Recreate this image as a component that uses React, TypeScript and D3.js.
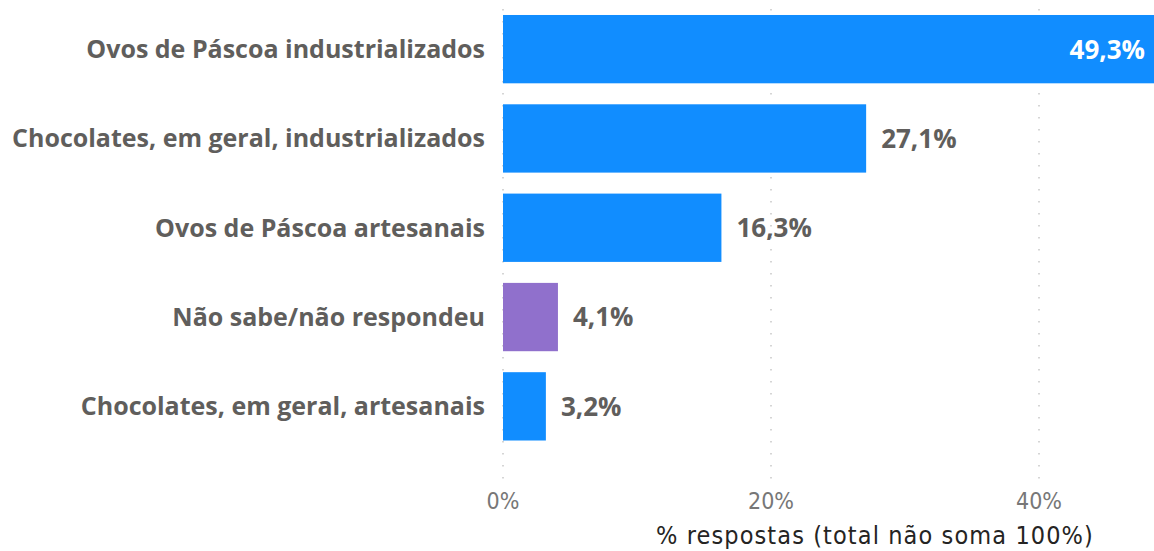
import React, { useEffect, useRef } from "react";
import * as d3 from "d3";

const categories = [
  "Ovos de Páscoa industrializados",
  "Chocolates, em geral, industrializados",
  "Ovos de Páscoa artesanais",
  "Não sabe/não respondeu",
  "Chocolates, em geral, artesanais",
];
const values = [49.3, 27.1, 16.3, 4.1, 3.2];
const barColors = ["#118DFF", "#118DFF", "#118DFF", "#9070CC", "#118DFF"];
const tickValues = [0, 20, 40];
const axisTitle = "% respostas (total não soma 100%)";

const W = 1154;
const H = 551;

export default function App() {
  const ref = useRef<SVGSVGElement>(null);
  useEffect(() => {
    const svg = d3.select(ref.current);
    svg.selectAll("*").remove();
    const x = d3.scaleLinear().domain([0, 50]).range([503, 1173]);
    const y = d3
      .scaleBand<string>()
      .domain(categories)
      .range([4.5, 451])
      .paddingInner(0.235)
      .paddingOuter(0.1175);

    const grid = svg.append("g");
    tickValues.forEach((t) => {
      grid
        .append("line")
        .attr("x1", x(t))
        .attr("x2", x(t))
        .attr("y1", 9)
        .attr("y2", 479)
        .attr("stroke", "#C8C8C8")
        .attr("stroke-width", 1.5)
        .attr("stroke-dasharray", "1.5,10.5");
    });

    const data = categories.map((c, i) => ({ c, v: values[i], col: barColors[i] }));

    svg
      .append("g")
      .selectAll("rect")
      .data(data)
      .join("rect")
      .attr("x", x(0))
      .attr("y", (d) => y(d.c)!)
      .attr("width", (d) => x(d.v) - x(0))
      .attr("height", y.bandwidth())
      .attr("fill", (d) => d.col);

    const fmt = (v: number) => v.toFixed(1).replace(".", ",") + "%";

    svg
      .append("g")
      .selectAll("text")
      .data(data)
      .join("text")
      .attr("x", (d) => (x(d.v) > W ? W - 9 : x(d.v) + 15))
      .attr("y", (d) => y(d.c)! + y.bandwidth() / 2)
      .attr("dy", "0.36em")
      .attr("text-anchor", (d) => (x(d.v) > W ? "end" : "start"))
      .attr("fill", (d) => (x(d.v) > W ? "#FFFFFF" : "#605E5C"))
      .attr("font-family", "'Open Sans', sans-serif")
      .attr("font-weight", 700)
      .attr("font-size", 26)
      .text((d) => fmt(d.v));

    svg
      .append("g")
      .selectAll("text")
      .data(data)
      .join("text")
      .attr("x", 485)
      .attr("y", (d) => y(d.c)! + y.bandwidth() / 2)
      .attr("dy", "0.36em")
      .attr("text-anchor", "end")
      .attr("fill", "#605E5C")
      .attr("font-family", "'Open Sans', sans-serif")
      .attr("font-weight", 700)
      .attr("font-size", 25)
      .text((d) => d.c);

    svg
      .append("g")
      .selectAll("text")
      .data(tickValues)
      .join("text")
      .attr("x", (d) => x(d))
      .attr("y", 509)
      .attr("text-anchor", "middle")
      .attr("fill", "#777777")
      .attr("font-family", "'DejaVu Sans Condensed', 'DejaVu Sans', sans-serif")
      .attr("font-size", 23)
      .text((d) => d + "%");

    svg
      .append("text")
      .attr("x", 875)
      .attr("y", 544)
      .attr("text-anchor", "middle")
      .attr("fill", "#252423")
      .attr("font-family", "'DejaVu Sans Condensed', 'DejaVu Sans', sans-serif")
      .attr("font-size", 25)
      .attr("letter-spacing", 1.1)
      .text(axisTitle);
  }, []);
  return (
    <svg
      ref={ref}
      width={W}
      height={H}
      style={{ position: "absolute", left: 0, top: 0, background: "#fff" }}
    />
  );
}
